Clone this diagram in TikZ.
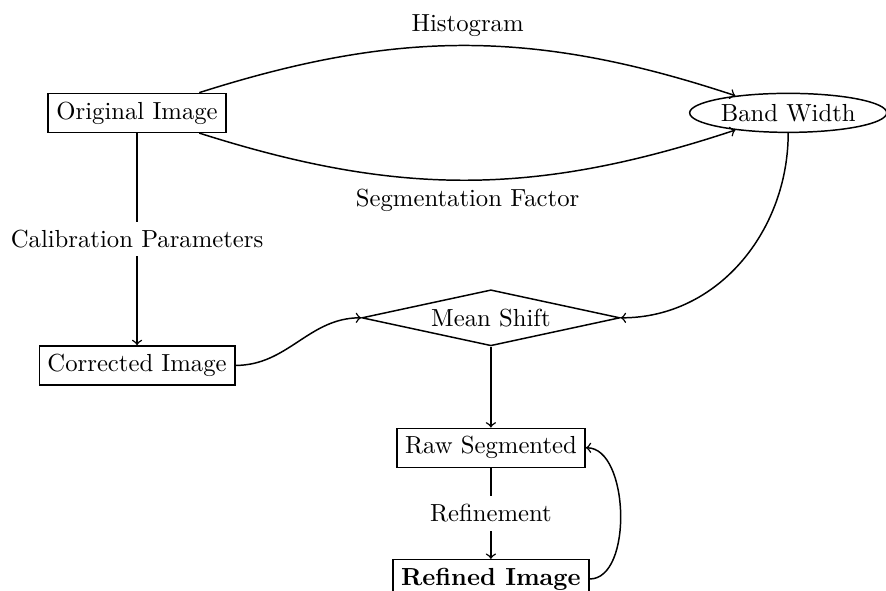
\documentclass[tikz,border=0pt]{standalone}
\usepackage{amsmath}
\usepackage{amssymb}
\usepackage{tikz}
\usetikzlibrary{shapes.geometric, positioning}

\begin{document}
\begin{tikzpicture}[semithick,
        box/.style={draw, rectangle},
        oval/.style={draw, ellipse, inner sep=0pt, minimum width=79.8pt, minimum height=15.8pt},
        decision/.style={draw, diamond, aspect=4.6, inner sep=0pt, minimum width=104.5pt, minimum height=22.7pt}]
        \useasboundingbox (0,0) rectangle (358.8pt,-239.3pt);

        \node[box] (orig) at (55.5pt,-45.7pt) {Original Image};
        \node[oval, right=187.2pt of orig] (band) {Band Width};
        \node[box, below=85.9pt of orig] (corr) {Corrected Image};
        \node[decision] (mean) at (198.8pt,-128.7pt) {Mean Shift};
        \node[box, below=32.8pt of mean] (raw) {Raw Segmented};
        \node[box, below=36.8pt of raw] (refined) {\textbf{Refined Image}};

        \draw[->]
            (orig) edge[bend left=18, auto=left] node {Histogram} (band)
            (orig) edge[bend right=18, auto=right] node {Segmentation Factor} (band)
            (orig) edge node[fill=white] {Calibration Parameters} (corr)

            (corr) edge[out=0, in=180] (mean)
            (band) edge[out=-90, in=0] (mean)
            (mean) edge (raw)
            (raw) edge node[fill=white] {Refinement} (refined)
            (refined) edge[out=0, in=0, looseness=0.85] (raw);
    \end{tikzpicture}
\end{document}
